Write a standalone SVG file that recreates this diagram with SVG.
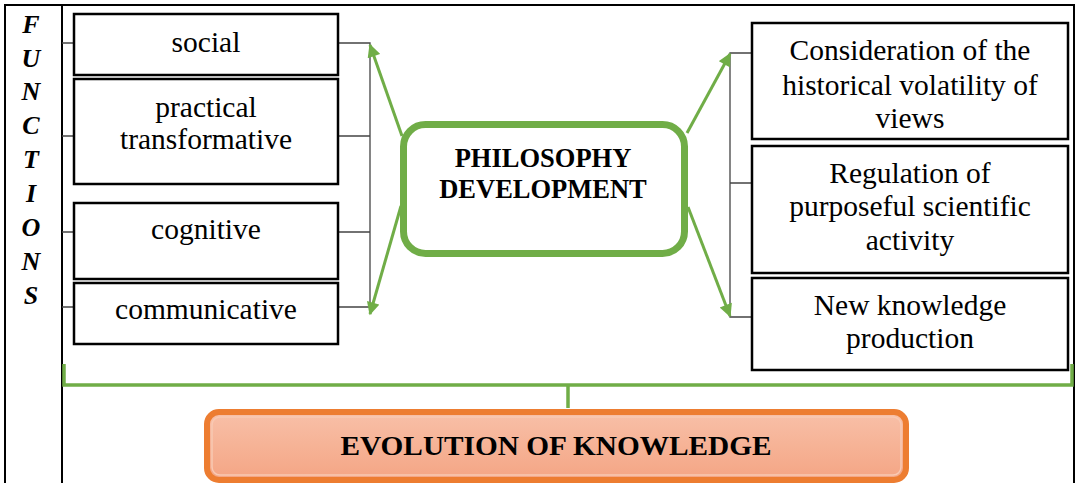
<svg xmlns="http://www.w3.org/2000/svg" width="1079" height="483" viewBox="0 0 1079 483">
<style>
.frame{stroke:#000;stroke-width:2;fill:none}
.box{fill:#fff;stroke:#000;stroke-width:2.5}
.t{font-family:"Liberation Serif","Times New Roman",serif;font-size:29.5px;fill:#000;text-anchor:middle}
.b{font-family:"Liberation Serif","Times New Roman",serif;font-weight:bold;fill:#000;text-anchor:middle}
.fl{font-family:"Liberation Serif","Times New Roman",serif;font-weight:bold;font-style:italic;font-size:26px;fill:#000;text-anchor:middle}
.conn{stroke:#444;stroke-width:1.3;fill:none}
.arr{stroke:#70AD47;stroke-width:3;fill:none;marker-end:url(#ah)}
</style>
<defs>
<marker id="ah" viewBox="0 0 10 10" refX="9" refY="5" markerWidth="15" markerHeight="13" markerUnits="userSpaceOnUse" orient="auto">
<path d="M0,0 L10,5 L0,10 z" fill="#70AD47"/>
</marker>
<linearGradient id="og" x1="0" y1="0" x2="0" y2="1">
<stop offset="0" stop-color="#F8C0A8"/>
<stop offset="1" stop-color="#F4A584"/>
</linearGradient>
</defs>

<g id="frame">
<path class="frame" d="M5,483 V5 H1074 V483"/>
<line class="frame" x1="62" y1="5" x2="62" y2="483"/>
</g>

<g id="functions-label">
<text class="fl" x="31" y="33">F</text>
<text class="fl" x="31" y="67">U</text>
<text class="fl" x="31" y="100">N</text>
<text class="fl" x="31" y="134">C</text>
<text class="fl" x="31" y="168">T</text>
<text class="fl" x="31" y="202">I</text>
<text class="fl" x="31" y="236">O</text>
<text class="fl" x="31" y="270">N</text>
<text class="fl" x="31" y="304">S</text>
</g>

<g id="connectors">
<path class="conn" d="M62,43 H74 M62,136 H74 M62,232 H74 M62,307 H74"/>
<path class="conn" d="M338,43 H370 V307 H338 M338,136 H370 M338,232 H370"/>
<path class="conn" d="M752,53 H730 V317 H752 M730,183 H752"/>
<line class="arr" x1="402" y1="136" x2="370" y2="45"/>
<line class="arr" x1="401" y1="206" x2="370" y2="314"/>
<line class="arr" x1="687" y1="133" x2="730" y2="54"/>
<line class="arr" x1="688" y1="207" x2="730" y2="316"/>
<path d="M64,364 V385 H1072 V364 M568,385 V408" fill="none" stroke="#70AD47" stroke-width="3.5"/>
</g>

<g id="node-social">
<rect class="box" x="74" y="14" width="264" height="61"/>
<text class="t" x="206" y="52">social</text>
</g>
<g id="node-practical">
<rect class="box" x="74" y="79" width="264" height="105"/>
<text class="t" x="206" y="117">practical</text>
<text class="t" x="206" y="149">transformative</text>
</g>
<g id="node-cognitive">
<rect class="box" x="74" y="203" width="264" height="76"/>
<text class="t" x="206" y="239">cognitive</text>
</g>
<g id="node-communicative">
<rect class="box" x="74" y="283" width="264" height="61"/>
<text class="t" x="206" y="319">communicative</text>
</g>

<g id="node-philosophy">
<rect x="403.5" y="124.5" width="281" height="129" rx="22" fill="#fff" stroke="#70AD47" stroke-width="7"/>
<text class="b" x="543" y="167" font-size="26.5">PHILOSOPHY</text>
<text class="b" x="543" y="198" font-size="26.5">DEVELOPMENT</text>
</g>

<g id="node-consideration">
<rect class="box" x="752" y="23" width="316" height="116"/>
<text class="t" x="910" y="60">Consideration of the</text>
<text class="t" x="910" y="95">historical volatility of</text>
<text class="t" x="910" y="128">views</text>
</g>
<g id="node-regulation">
<rect class="box" x="752" y="146" width="316" height="127"/>
<text class="t" x="910" y="183">Regulation of</text>
<text class="t" x="910" y="216">purposeful scientific</text>
<text class="t" x="910" y="250">activity</text>
</g>
<g id="node-newknowledge">
<rect class="box" x="752" y="278" width="316" height="92"/>
<text class="t" x="910" y="315">New knowledge</text>
<text class="t" x="910" y="348">production</text>
</g>

<g id="node-evolution">
<rect x="207" y="412" width="699" height="68" rx="12" fill="url(#og)" stroke="#ED7D31" stroke-width="6"/>
<rect x="212" y="417" width="689" height="58" rx="8" fill="none" stroke="#F8C9B3" stroke-width="1.5"/>
<text class="b" x="556" y="455" font-size="28" textLength="431" lengthAdjust="spacingAndGlyphs">EVOLUTION OF KNOWLEDGE</text>
</g>
</svg>
